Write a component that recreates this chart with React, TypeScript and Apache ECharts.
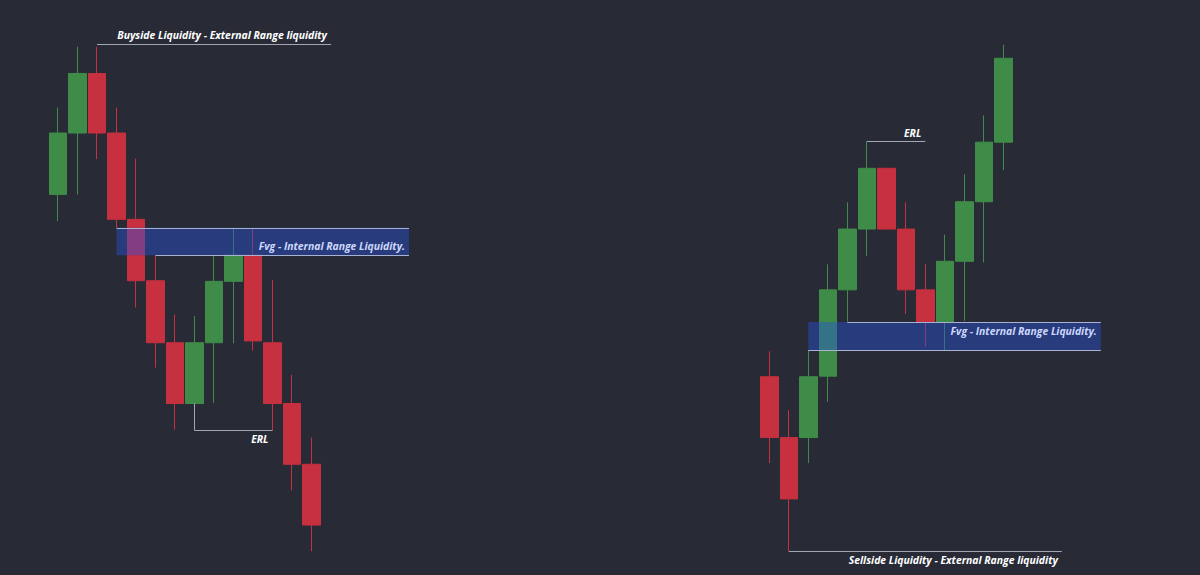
import React, { useEffect, useRef } from 'react';
import * as echarts from 'echarts';

// ---------- data ----------
// Candles: [open, close, low, high]
const leftCategories = ['1', '2', '3', '4', '5', '6', '7', '8', '9', '10', '11', '12', '13', '14', '15', '16', '17', '18', '19'];
const leftCandles = [
  [61.3, 71.4, 56.9, 75.6],
  [71.4, 81.2, 61.3, 85.6],
  [81.2, 71.4, 67.1, 85.6],
  [71.4, 57.2, 55.8, 75.6],
  [57.2, 47.1, 42.7, 67.2],
  [47.1, 36.9, 32.8, 51.3],
  [36.9, 26.9, 22.6, 41.5],
  [26.9, 36.9, 26.9, 41.3],
  [36.9, 47.0, 27.0, 51.3],
  [47.0, 51.3, 36.8, 55.8],
  [51.3, 37.2, 35.6, 55.8],
  [36.9, 26.9, 22.5, 47.2],
  [26.9, 16.9, 12.6, 31.6],
  [16.9, 6.9, 2.6, 21.3],
];

const rightCategories = ['1', '2', '3', '4', '5', '6', '7', '8', '9', '10', '11', '12', '13', '14', '15', '16', '17', '18'];
const rightCandles = [
  [31.3, 21.3, 17.1, 35.5],
  [21.3, 11.2, 2.6, 25.8],
  [21.3, 31.3, 17.1, 35.7],
  [31.4, 45.6, 27.2, 49.8],
  [45.6, 55.6, 40.4, 60.0],
  [55.6, 65.6, 51.2, 70.0],
  [65.6, 55.6, 55.6, 65.6],
  [55.6, 45.6, 41.6, 60.0],
  [45.6, 40.3, 36.2, 49.8],
  [40.3, 50.3, 35.7, 54.7],
  [50.3, 60.1, 40.5, 64.6],
  [60.1, 69.9, 50.1, 74.3],
  [69.9, 83.7, 65.3, 85.9],
];

// Annotation levels (price) and anchor candle indices
const buysideLevel = 86.0;
const buysideFrom = 2;
const buysideTo = 14;
const leftErlLevel = 22.5;
const leftErlBracketTop = 26.9;
const leftErlFrom = 7;
const leftErlTo = 11;
const leftFvg = [51.3, 55.8]; // [bottom, top]
const leftFvgFrom = 3;
const leftFvgBottomFrom = 5;
const leftFvgTo = 18;

const sellsideLevel = 2.6;
const sellsideFrom = 1;
const sellsideTo = 15;
const rightErlLevel = 70.0;
const rightErlFrom = 5;
const rightErlTo = 8;
const rightFvg = [35.7, 40.3]; // [bottom, top]
const rightFvgFrom = 2;
const rightFvgTopFrom = 4;
const rightFvgTo = 17;

const buysideText = 'Buyside Liquidity - External Range liquidity';
const sellsideText = 'Sellside Liquidity - External Range liquidity';
const erlText = 'ERL';
const fvgText = 'Fvg - Internal Range Liquidity.';

// ---------- styles ----------
const BG = '#282b36';
const GREEN = '#3f8c48';
const RED = '#c6303f';
const BOX = 'rgba(38, 80, 225, 0.42)';
const LINE = '#a3a7b3';
const BOX_LINE = '#aab2d2';

const textBase = {
  color: '#ffffff',
  fontSize: 10.4,
  fontWeight: 'bold' as const,
  fontStyle: 'italic' as const,
  fontFamily: 'Open Sans',
};

const candleStyle = {
  color: GREEN,
  color0: RED,
  borderColor: GREEN,
  borderColor0: RED,
  borderWidth: 1,
};

const noLabel = { show: false };

export default function App() {
  const ref = useRef<HTMLDivElement>(null);

  useEffect(() => {
    if (!ref.current) return;
    const chart = echarts.init(ref.current, undefined, { renderer: 'svg' });

    const gridTop = 20;
    const gridHeight = 547;
    const pitch = 19.5;

    const option: any = {
      animation: false,
      backgroundColor: BG,
      grid: [
        { left: 48.25, top: gridTop, width: pitch * leftCategories.length, height: gridHeight },
        { left: 759.55, top: gridTop, width: pitch * rightCategories.length, height: gridHeight },
      ],
      xAxis: [
        { type: 'category', gridIndex: 0, data: leftCategories, show: false },
        { type: 'category', gridIndex: 1, data: rightCategories, show: false },
      ],
      yAxis: [
        { type: 'value', gridIndex: 0, min: 0, max: 90, show: false, splitLine: { show: false } },
        { type: 'value', gridIndex: 1, min: 0, max: 90, show: false, splitLine: { show: false } },
      ],
      series: [
        {
          type: 'candlestick',
          xAxisIndex: 0,
          yAxisIndex: 0,
          data: leftCandles,
          barWidth: 18,
          itemStyle: candleStyle,
          markArea: {
            silent: true,
            z: 3,
            itemStyle: { color: BOX, borderWidth: 0 },
            label: {
              ...textBase,
              color: '#cdd7fb',
              position: 'insideBottomRight',
              distance: 4,
              formatter: fvgText,
            },
            data: [[
              { coord: [leftFvgFrom, leftFvg[1]] },
              { coord: [leftFvgTo, leftFvg[0]] },
            ]],
          },
          markLine: {
            silent: true,
            z: 5,
            symbol: ['none', 'none'],
            lineStyle: { color: LINE, width: 1, type: 'solid' },
            label: { ...textBase, distance: 4 },
            data: [
              [
                { coord: [buysideFrom, buysideLevel], label: { position: 'insideEndTop', formatter: buysideText } },
                { coord: [buysideTo, buysideLevel] },
              ],
              [
                { coord: [leftErlFrom, leftErlBracketTop], label: noLabel },
                { coord: [leftErlFrom, leftErlLevel] },
              ],
              [
                { coord: [leftErlFrom, leftErlLevel], label: { position: 'insideEndBottom', formatter: erlText } },
                { coord: [leftErlTo, leftErlLevel] },
              ],
              [
                { coord: [leftFvgFrom, leftFvg[1]], label: noLabel, lineStyle: { color: BOX_LINE } },
                { coord: [leftFvgTo, leftFvg[1]] },
              ],
              [
                { coord: [leftFvgBottomFrom, leftFvg[0]], label: noLabel, lineStyle: { color: BOX_LINE } },
                { coord: [leftFvgTo, leftFvg[0]] },
              ],
            ],
          },
        },
        {
          type: 'candlestick',
          xAxisIndex: 1,
          yAxisIndex: 1,
          data: rightCandles,
          barWidth: 18,
          itemStyle: candleStyle,
          markArea: {
            silent: true,
            z: 3,
            itemStyle: { color: BOX, borderWidth: 0 },
            label: {
              ...textBase,
              color: '#cdd7fb',
              position: 'insideTopRight',
              distance: 4,
              formatter: fvgText,
            },
            data: [[
              { coord: [rightFvgFrom, rightFvg[1]] },
              { coord: [rightFvgTo, rightFvg[0]] },
            ]],
          },
          markLine: {
            silent: true,
            z: 5,
            symbol: ['none', 'none'],
            lineStyle: { color: LINE, width: 1, type: 'solid' },
            label: { ...textBase, distance: 4 },
            data: [
              [
                { coord: [sellsideFrom, sellsideLevel], label: { position: 'insideEndBottom', formatter: sellsideText } },
                { coord: [sellsideTo, sellsideLevel] },
              ],
              [
                { coord: [rightErlFrom, rightErlLevel], label: { position: 'insideEndTop', formatter: erlText } },
                { coord: [rightErlTo, rightErlLevel] },
              ],
              [
                { coord: [rightFvgTopFrom, rightFvg[1]], label: noLabel, lineStyle: { color: BOX_LINE } },
                { coord: [rightFvgTo, rightFvg[1]] },
              ],
              [
                { coord: [rightFvgFrom, rightFvg[0]], label: noLabel, lineStyle: { color: BOX_LINE } },
                { coord: [rightFvgTo, rightFvg[0]] },
              ],
            ],
          },
        },
      ],
    };

    chart.setOption(option);
    return () => chart.dispose();
  }, []);

  return (
    <div
      ref={ref}
      style={{ position: 'fixed', left: 0, top: 0, width: 1200, height: 575, background: BG }}
    />
  );
}
